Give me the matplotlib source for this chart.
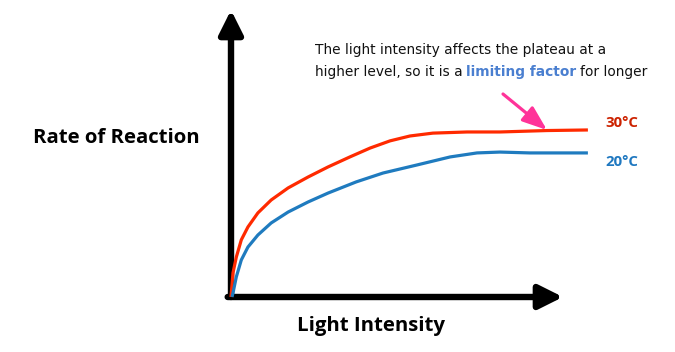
import matplotlib
matplotlib.use("Agg")
import matplotlib.pyplot as plt

W, H = 675, 352

# light intensity (0-100 = axis length) and rate of reaction (0-100 = axis height)
light_30 = [0, 0.1, 0.6, 1.6, 3.1, 5.1, 8.1, 12.1, 17.2, 23.2, 29.2, 35.8, 41.9,
            47.9, 53.9, 60.8, 71.1, 81.0, 95.2, 107.5]
rate_30 = [0, 1.4, 8.4, 13.9, 19.9, 24.4, 29.3, 33.8, 38.0, 41.8, 45.3, 48.8, 51.9,
           54.4, 56.1, 57.1, 57.5, 57.5, 58.0, 58.2]

light_20 = [0.3, 0.6, 1.6, 3.1, 5.1, 8.1, 12.1, 17.2, 23.2, 29.2, 37.7, 45.8, 56.0,
            66.0, 74.1, 81.0, 90.0, 107.5]
rate_20 = [0, 1.4, 7.0, 12.9, 17.4, 21.6, 25.8, 29.6, 33.1, 36.2, 40.1, 43.2, 46.0,
           48.8, 50.2, 50.5, 50.2, 50.2]

labels = ["30\u00b0C", "20\u00b0C"]
line_colors = ["#ff2a00", "#1f7bbf"]
text_colors = ["#cc2200", "#1f78c0"]

plt.rcParams["font.family"] = ["DejaVu Sans"]

fig = plt.figure(figsize=(W / 100, H / 100), dpi=100)
ax = fig.add_axes([231 / W, 55 / H, 332 / W, 287 / H])
ax.set_xlim(0, 100)
ax.set_ylim(0, 100)
ax.axis("off")


def fx(px):
    return px / W


def fy(py):
    return 1 - py / H


# axes arrows
arrow_kw = dict(arrowstyle="-|>,head_length=0.4,head_width=0.2", mutation_scale=36,
                lw=4.6, color="black", shrinkA=0, shrinkB=0)
ax.annotate("", xy=(0, 1), xytext=(0, 0), xycoords="axes fraction",
            arrowprops=arrow_kw, annotation_clip=False)
ax.annotate("", xy=(1, 0), xytext=(-0.01, 0), xycoords="axes fraction",
            arrowprops=arrow_kw, annotation_clip=False)

ax.plot(light_30, rate_30, color=line_colors[0], lw=2.3, clip_on=False,
        solid_capstyle="butt", solid_joinstyle="round", zorder=3)
ax.plot(light_20, rate_20, color=line_colors[1], lw=2.3, clip_on=False,
        solid_capstyle="butt", solid_joinstyle="round", zorder=3)

bold = dict(family=["Open Sans", "DejaVu Sans"], weight="bold")
fig.text(fx(605), fy(123), labels[0], color=text_colors[0], fontsize=10.8,
         va="center", ha="left", **bold)
fig.text(fx(605), fy(162), labels[1], color=text_colors[1], fontsize=10.8,
         va="center", ha="left", **bold)

fig.text(fx(116), fy(138), "Rate of Reaction", fontsize=14.7,
         ha="center", va="center", **bold)
fig.text(fx(371), fy(326), "Light Intensity", fontsize=14.7,
         ha="center", va="center", **bold)

# note text
note_size = 9.95
fig.text(fx(315), fy(50), "The light intensity affects the plateau at a",
         fontsize=note_size, ha="left", va="center", color="#111111")
t1 = fig.text(fx(315), fy(72), "higher level, so it is a",
              fontsize=note_size, ha="left", va="center", color="#111111")
t2 = ax.annotate("limiting factor", xy=(1, 0), xycoords=t1, xytext=(2.6, 0),
                 textcoords="offset points", fontsize=note_size, fontweight="bold",
                 color="#4a7fd0", ha="left", va="bottom")
ax.annotate("for longer", xy=(1, 0), xycoords=t2, xytext=(2.6, 0),
            textcoords="offset points", fontsize=note_size, color="#111111",
            ha="left", va="bottom")

# pink pointer
ax.annotate("", xy=(547, H - 130), xytext=(503, H - 94), xycoords="figure pixels",
            arrowprops=dict(arrowstyle="-|>,head_length=0.75,head_width=0.28",
                            mutation_scale=20, lw=2.3, color="#ff3399",
                            shrinkA=0, shrinkB=0),
            annotation_clip=False)

fig.savefig("out.png", dpi=100)
